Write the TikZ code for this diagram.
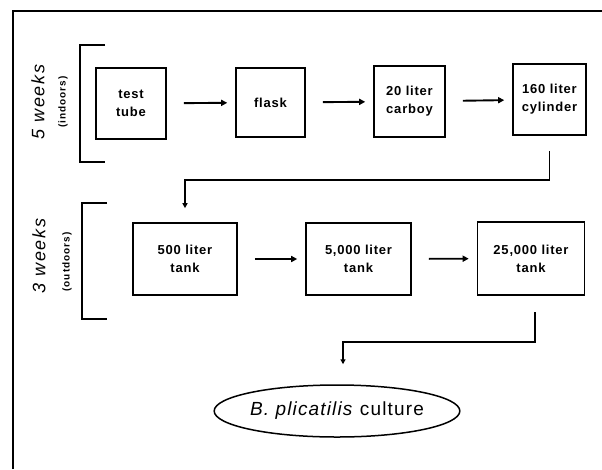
\documentclass[tikz,border=0pt]{standalone}
\usepackage{fontspec}
\setmainfont{Liberation Sans}
\newfontfamily\boxfont[LetterSpace=6]{Liberation Sans}
\newfontfamily\stagefont[LetterSpace=10]{Liberation Sans}
\usepackage{tikz}
\usetikzlibrary{arrows.meta,shapes.geometric,positioning,calc}

\begin{document}
\begin{tikzpicture}[x=1pt,y=-1pt,
    vessel/.style={draw,line width=1.6pt,inner sep=0pt,align=center,
      font=\boxfont\bfseries\fontsize{13}{18}\selectfont},
    flow/.style={line width=1.9pt,-{Triangle[length=6pt,width=6pt]},
      shorten <=17pt,shorten >=8pt},
    elbow/.style={line width=1.5pt,-{Triangle[length=5pt,width=5pt]}},
    bracket/.style={line width=1.5pt},
    weeks/.style={rotate=90,font=\stagefont\itshape\fontsize{18}{20}\selectfont},
    where/.style={rotate=90,font=\stagefont\bfseries\fontsize{10}{12}\selectfont}]
  \useasboundingbox (0,0) rectangle (602,469);
  % frame
  \draw[line width=1.8pt] (13,469) -- (13,11) -- (602,11);
  % indoor stage
  \draw[bracket] (105,45) -- (80,45) -- (80,162) -- (105,162);
  \node[weeks] (wk1) at (38,102) {5 weeks};
  \node[where] (in1) at (63,102) {(indoors)};
  \node[vessel,minimum width=70pt,minimum height=71pt] (tube) at (131,103.5) {test\\tube};
  \node[vessel,minimum width=69pt,minimum height=69pt] (flask) at (270.5,102.5) {flask};
  \node[vessel,minimum width=71pt,minimum height=71pt] (carboy) at (409.5,101.5) {20 liter\\carboy};
  \node[vessel,minimum width=73pt,minimum height=71pt] (cyl) at (549.5,99.5) {160 liter\\cylinder};
  \draw[flow] (tube) -- (flask);
  \draw[flow] (flask) -- (carboy);
  \draw[flow] (carboy) -- (cyl);
  % outdoor stage
  \draw[bracket] (107,203) -- (82,203) -- (82,319) -- (107,319);
  \node[weeks] (wk2) at (39,256) {3 weeks};
  \node[where] (out2) at (67,262) {(outdoors)};
  \node[vessel,minimum width=104pt,minimum height=72pt] (t500) at (185,259) {500 liter\\tank};
  \node[vessel,minimum width=105pt,minimum height=72pt] (t5000) at (358.5,259) {5,000 liter\\tank};
  \node[vessel,minimum width=107pt,minimum height=73pt] (t25000) at (531,258.5) {25,000 liter\\tank};
  \draw[flow] (t500) -- (t5000);
  \draw[flow] (t5000) -- (t25000);
  % cylinder down to 500 liter tank
  \coordinate (turn1) at (551,180);
  \draw[elbow] ([yshift=-15pt]cyl.south) -- (cyl.south |- turn1) -| ([yshift=14pt]t500.north);
  % final culture
  \node[draw,ellipse,line width=1.5pt,inner sep=0pt,minimum width=238pt,minimum height=52pt,
    font=\boxfont\fontsize{19}{21}\selectfont] (cult) at (337,411) {\textit{B. plicatilis} culture};
  \coordinate (drop2) at (535,312);
  \coordinate (turn2) at (535,342);
  \draw[elbow] (drop2) -- (turn2) -| ([xshift=6pt,yshift=20pt]cult.north);
\end{tikzpicture}
\end{document}
